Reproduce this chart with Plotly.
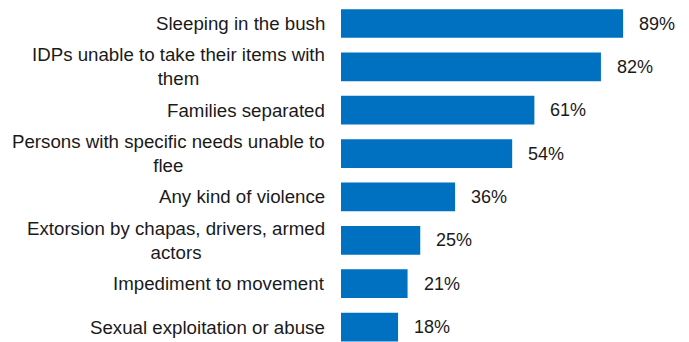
import plotly.graph_objects as go

categories = [
    "Sleeping in the bush",
    "IDPs unable to take their items with<br>them",
    "Families separated",
    "Persons with specific needs unable to<br>flee",
    "Any kind of violence",
    "Extorsion by chapas, drivers, armed<br>actors",
    "Impediment to movement",
    "Sexual exploitation or abuse",
]
values = [89, 82, 61, 54, 36, 25, 21, 18]
value_labels = [f"{v}%" for v in values]

FONT = "Liberation Sans, Arial, sans-serif"

fig = go.Figure()
fig.add_trace(go.Bar(
    x=values,
    y=categories,
    orientation="h",
    marker=dict(color="#0070C0", line=dict(width=0)),
    width=0.662,
    hoverinfo="skip",
))

for c, v, t in zip(categories, values, value_labels):
    fig.add_annotation(
        x=v, y=c, text=t, showarrow=False,
        xanchor="left", yanchor="middle", xshift=14,
        font=dict(family=FONT, size=18, color="#1a1a1a"),
    )
    fig.add_annotation(
        xref="paper", x=0, y=c, text=c, showarrow=False,
        xanchor="right", yanchor="middle", align="center", xshift=-14,
        font=dict(family=FONT, size=18.7, color="#1a1a1a"),
    )

fig.update_layout(
    width=689, height=342,
    margin=dict(l=341, r=31, t=0, b=0),
    paper_bgcolor="white", plot_bgcolor="white",
    showlegend=False,
    font=dict(family=FONT, size=18.7, color="#1a1a1a"),
)
fig.update_xaxes(range=[0, 100], visible=False, fixedrange=True)
fig.update_yaxes(
    type="category",
    range=[7.345, -0.542],
    automargin=False,
    showgrid=False, zeroline=False, showline=False,
    showticklabels=False,
)

fig.write_html("out.html")
